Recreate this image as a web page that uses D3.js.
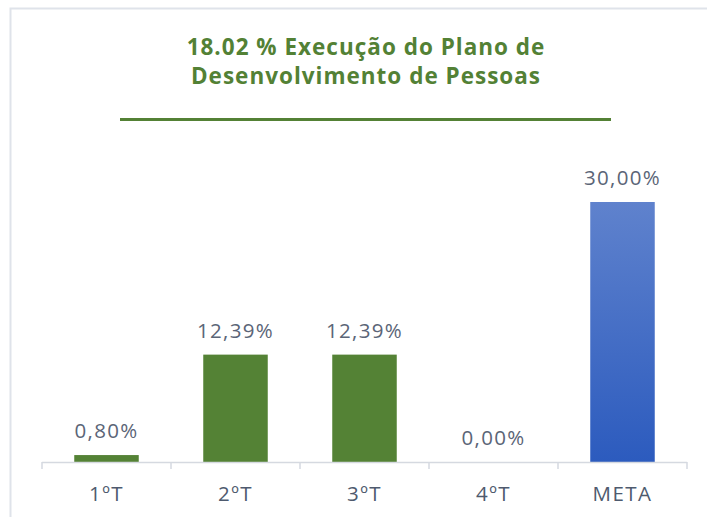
<!DOCTYPE html>
<html>
<head>
<meta charset="utf-8">
<script src="https://cdn.jsdelivr.net/npm/d3@7"></script>
<style>
  html, body { margin: 0; padding: 0; background: #fff; }
  svg { display: block; }
</style>
</head>
<body>
<div id="chart"></div>
<script>
// chart data
const categories = ['1ºT', '2ºT', '3ºT', '4ºT', 'META'];
const values = [0.80, 12.39, 12.39, 0.00, 30.00];
const titleLines = ['18.02 % Execução do Plano de', 'Desenvolvimento de Pessoas'];

const width = 707, height = 517;
const axisY = 462;

const svg = d3.select('#chart')
  .append('svg')
  .attr('width', width)
  .attr('height', height);

// gradient for the META bar
const defs = svg.append('defs');
const grad = defs.append('linearGradient')
  .attr('id', 'metaGrad')
  .attr('x1', 0).attr('y1', 0).attr('x2', 0).attr('y2', 1);
grad.append('stop').attr('offset', '0%').attr('stop-color', '#5F82CD');
grad.append('stop').attr('offset', '100%').attr('stop-color', '#2C5BBE');

// frame (top and left edge only visible)
svg.append('rect')
  .attr('x', 10.5).attr('y', 8.5)
  .attr('width', 720).attr('height', 530)
  .attr('fill', 'none')
  .attr('stroke', '#DFE3EA')
  .attr('stroke-width', 2);

// title
svg.append('g')
  .selectAll('text')
  .data(titleLines)
  .enter()
  .append('text')
  .attr('x', 366)
  .attr('y', (d, i) => 55 + i * 29)
  .attr('text-anchor', 'middle')
  .attr('font-family', 'Open Sans, sans-serif')
  .attr('font-weight', 700)
  .attr('font-size', 22.5)
  .attr('letter-spacing', 1)
  .attr('fill', '#538135')
  .text(d => d);

// title underline
svg.append('line')
  .attr('x1', 120).attr('x2', 611)
  .attr('y1', 119.5).attr('y2', 119.5)
  .attr('stroke', '#538135')
  .attr('stroke-width', 3);

const x = d3.scaleBand()
  .domain(categories)
  .range([42, 687])
  .paddingInner(0.5)
  .paddingOuter(0.25);

const y = d3.scaleLinear()
  .domain([0, 30])
  .range([axisY, 202]);

const step = x.step();
const x0 = x.range()[0];

// bars
svg.append('g')
  .selectAll('rect')
  .data(values)
  .enter()
  .append('rect')
  .attr('x', (d, i) => x(categories[i]))
  .attr('width', x.bandwidth())
  .attr('y', d => y(d))
  .attr('height', d => axisY - y(d))
  .attr('fill', (d, i) => categories[i] === 'META' ? 'url(#metaGrad)' : '#548235');

// value labels
svg.append('g')
  .selectAll('text')
  .data(values)
  .enter()
  .append('text')
  .attr('x', (d, i) => x(categories[i]) + x.bandwidth() / 2)
  .attr('y', d => y(d) - 17)
  .attr('text-anchor', 'middle')
  .attr('font-family', 'Open Sans, sans-serif')
  .attr('font-size', 20.5)
  .attr('letter-spacing', 1.3)
  .attr('fill', '#5B6577')
  .text(d => d.toFixed(2).replace('.', ',') + '%');

// x axis: line and boundary ticks
const axis = svg.append('g').attr('class', 'axis');
axis.append('line')
  .attr('x1', x0).attr('x2', x0 + step * categories.length)
  .attr('y1', axisY + 0.5).attr('y2', axisY + 0.5)
  .attr('stroke', '#D5D9E0')
  .attr('stroke-width', 1.5);
axis.selectAll('line.tick')
  .data(d3.range(categories.length + 1))
  .enter()
  .append('line')
  .attr('class', 'tick')
  .attr('x1', i => x0 + i * step).attr('x2', i => x0 + i * step)
  .attr('y1', axisY).attr('y2', axisY + 7)
  .attr('stroke', '#D5D9E0')
  .attr('stroke-width', 1.5);

// category labels
const labels = svg.append('g')
  .attr('transform', `translate(0,${axisY})`)
  .call(d3.axisBottom(x).tickSize(0).tickPadding(0));
labels.select('.domain').remove();
labels.selectAll('text')
  .attr('y', 39)
  .attr('dy', null)
  .attr('font-family', 'Open Sans, sans-serif')
  .attr('font-size', 20.5)
  .attr('letter-spacing', 1.5)
  .attr('fill', '#4E5A6E');
</script>
</body>
</html>
